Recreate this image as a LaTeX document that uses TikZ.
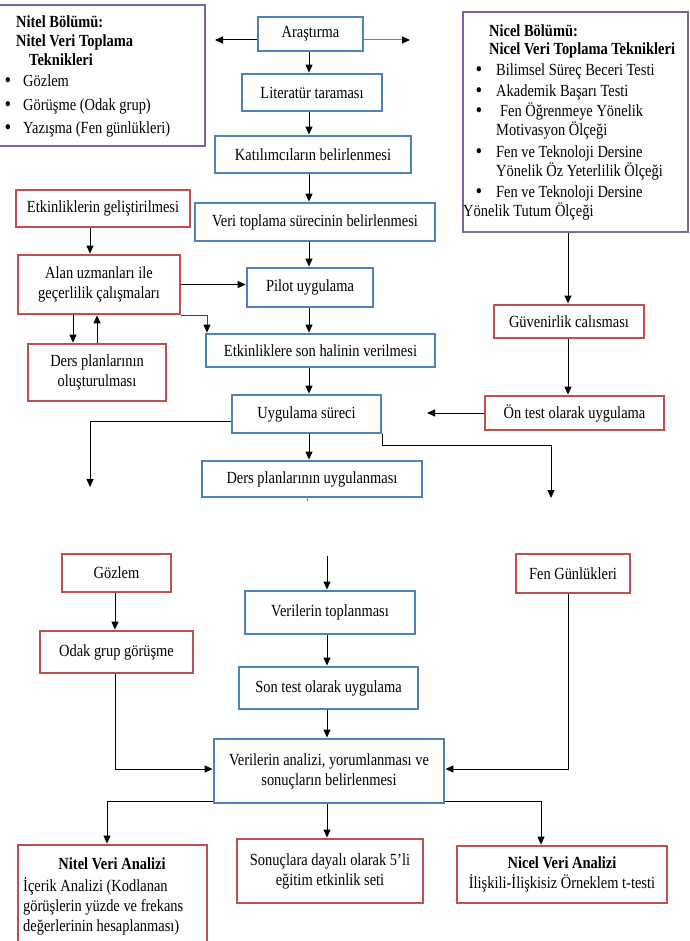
\documentclass[tikz,border=0pt]{standalone}
\usepackage{fontspec}
\setmainfont{Liberation Serif}[FakeStretch=0.85]
\usetikzlibrary{arrows.meta}
\definecolor{bblue}{HTML}{4F81BD}
\definecolor{rred}{HTML}{C0504D}
\definecolor{ppurple}{HTML}{8064A2}
\newcommand\mybox[7]{\node[#1,minimum width={#5-#3},minimum height={#6-#4}] (#2) at ({(#3+#5)/2},{(#4+#6)/2}) {#7};}
\begin{document}
\begin{tikzpicture}[x=1pt,y=-1pt,
 base/.style={draw, line width=2.8pt, fill=white, inner sep=0pt, outer sep=1.4pt, font=\fontsize{17}{20}\selectfont, align=center},
 bluebox/.style={base, draw=bblue},
 redbox/.style={base, draw=rred},
 purplebox/.style={base, draw=ppurple},
 arr/.style={-{Triangle[length=8pt,width=7pt,color=black]}, line width=1pt},
 lbl/.style={inner sep=0pt, anchor=west, font=\fontsize{17}{20}\selectfont, text height=11pt, text depth=3.5pt},
 lblb/.style={lbl, font=\bfseries\fontsize{17}{20}\selectfont},
 bul/.style={lbl, font=\bfseries\fontsize{19}{20}\selectfont}]
\fill[white] (0,0) rectangle (689,941);
\useasboundingbox (0,0) rectangle (689,941);

% side boxes
\mybox{purplebox}{nitelB}{-2}{5}{205}{146}{}
\mybox{purplebox}{nicelB}{463}{12}{688}{232}{}

\node[lblb] (nb1) at (16,24) {Nitel Bölümü:};
\node[lblb] (nb2) at (16,43) {Nitel Veri Toplama};
\node[lblb] (nb3) at (29,62) {Teknikleri};
\node[bul] (nbb1) at (5,83) {•};
\node[lbl] (nbi1) at (23,83) {Gözlem};
\node[bul] (nbb2) at (5,107) {•};
\node[lbl] (nbi2) at (23,107) {Görüşme (Odak grup)};
\node[bul] (nbb3) at (5,130) {•};
\node[lbl] (nbi3) at (23,130) {Yazışma (Fen günlükleri)};

\node[lblb] (cb1) at (489,33) {Nicel Bölümü:};
\node[lblb] (cb2) at (489,51) {Nicel Veri Toplama Teknikleri};
\node[bul] (cbb1) at (476,72) {•};
\node[lbl] (cbi1) at (496,72) {Bilimsel Süreç Beceri Testi};
\node[bul] (cbb2) at (476,93) {•};
\node[lbl] (cbi2) at (496,93) {Akademik Başarı Testi};
\node[bul] (cbb3) at (476,113) {•};
\node[lbl] (cbi3) at (500,113) {Fen Öğrenmeye Yönelik};
\node[lbl] (cbi3b) at (496,132) {Motivasyon Ölçeği};
\node[bul] (cbb4) at (476,154) {•};
\node[lbl] (cbi4) at (496,154) {Fen ve Teknoloji Dersine};
\node[lbl] (cbi4b) at (496,173) {Yönelik Öz Yeterlilik Ölçeği};
\node[bul] (cbb5) at (476,194) {•};
\node[lbl] (cbi5) at (496,194) {Fen ve Teknoloji Dersine};
\node[lbl] (cbi5b) at (463,213) {Yönelik Tutum Ölçeği};

% main column
\mybox{bluebox}{arastirma}{258}{17}{363}{51}{Araştırma}
\mybox{bluebox}{literatur}{242}{74}{382}{111}{Literatür taraması}
\mybox{bluebox}{katilim}{215}{136}{411}{173}{Katılımcıların belirlenmesi}
\mybox{bluebox}{veritop}{195}{203}{435}{241}{Veri toplama sürecinin belirlenmesi}
\mybox{bluebox}{pilot}{247}{268}{373}{307}{Pilot uygulama}
\mybox{bluebox}{etkson}{206}{334}{435}{367}{Etkinliklere son halinin verilmesi}
\mybox{bluebox}{uygsur}{232}{395}{381}{433}{Uygulama süreci}
\mybox{bluebox}{dersuyg}{202}{461}{422}{497}{Ders planlarının uygulanması}

\mybox{redbox}{etkgel}{16}{190}{190}{227}{Etkinliklerin geliştirilmesi}
\mybox{redbox}{alan}{18}{255}{180}{314}{Alan uzmanları ile\\geçerlilik çalışmaları}
\mybox{redbox}{dersolus}{28}{344}{166}{401}{Ders planlarının\\oluşturulması}
\mybox{redbox}{guven}{494}{305}{644}{338}{Güvenirlik calısması}
\mybox{redbox}{ontest}{485}{396}{664}{430}{Ön test olarak uygulama}

% lower part
\mybox{redbox}{gozlem}{62}{554}{171}{592}{Gözlem}
\mybox{redbox}{odak}{40}{631}{193}{673}{Odak grup görüşme}
\mybox{redbox}{fengun}{516}{554}{630}{593}{Fen Günlükleri}
\mybox{bluebox}{veritopl}{245}{591}{415}{634}{Verilerin toplanması}
\mybox{bluebox}{sontest}{239}{667}{418}{709}{Son test olarak uygulama}
\mybox{bluebox}{analiz}{214}{739}{444}{803}{Verilerin analizi, yorumlanması ve\\sonuçların belirlenmesi}
\mybox{redbox}{nitelA}{18}{845}{207}{962}{}
\mybox{redbox}{sonuclar}{237}{839}{423}{903}{Sonuçlara dayalı olarak 5’li\\eğitim etkinlik seti}
\mybox{redbox}{nicelA}{457}{846}{667}{903}{\textbf{Nicel Veri Analizi}\\İlişkili-İlişkisiz Örneklem t-testi}

\node[lblb, anchor=center] (na1) at (112,866) {Nitel Veri Analizi};
\node[lbl] (na2) at (23,888) {İçerik Analizi (Kodlanan};
\node[lbl] (na3) at (23,908) {görüşlerin yüzde ve frekans};
\node[lbl] (na4) at (23,928) {değerlerinin hesaplanması)};

% helper coordinates
\coordinate (mx) at (309,0);
\coordinate (al) at (215,40);
\coordinate (ar) at (410,40);
\coordinate (xa) at (90,0);
\coordinate (xb) at (73,0);
\coordinate (xc) at (97,0);
\coordinate (xs) at (207,0);
\coordinate (xr) at (568,0);
\coordinate (ot) at (427,0);
\coordinate (uy) at (0,421);
\coordinate (ul) at (90,487);
\coordinate (yy) at (0,445);
\coordinate (ur) at (551,498);
\coordinate (ds) at (307,501);
\coordinate (ct) at (327,556);
\coordinate (cx) at (327,0);
\coordinate (xg) at (115,0);
\coordinate (yv) at (0,769);
\coordinate (yb) at (0,801);
\coordinate (xn) at (107,0);
\coordinate (xq) at (541,0);

% connectors top
\draw[arr] (arastirma.west |- al) -- (al);
\draw[arr, draw=gray] (arastirma.east |- ar) -- (ar);
\draw[arr] (arastirma.south -| mx) -- (literatur.north -| mx);
\draw[arr] (literatur.south -| mx) -- (katilim.north -| mx);
\draw[arr] (katilim.south -| mx) -- (veritop.north -| mx);
\draw[arr] (veritop.south -| mx) -- (pilot.north -| mx);
\draw[arr] (pilot.south -| mx) -- (etkson.north -| mx);
\draw[arr] (etkson.south -| mx) -- (uygsur.north -| mx);
\draw[arr] (uygsur.south -| mx) -- (dersuyg.north -| mx);
\draw[line width=0.8pt, draw=gray] (dersuyg.south -| ds) -- (ds);

\draw[arr] (etkgel.south -| xa) -- (alan.north -| xa);
\draw[arr] (alan.south -| xb) -- (dersolus.north -| xb);
\draw[arr] (dersolus.north -| xc) -- (alan.south -| xc);
\draw[arr] (alan.east) -- (alan.east -| pilot.west);
\draw[arr, draw=black!75] (alan.south east) -| (etkson.north -| xs);

\draw[arr] (nicelB.south -| xr) -- (guven.north -| xr);
\draw[arr] (guven.south -| xr) -- (ontest.north -| xr);
\draw[arr] (ontest.west) -- (ontest.west -| ot);
\draw[arr] (uygsur.west |- uy) -| (ul);
\draw[arr] (uygsur.south east) -- (uygsur.south east |- yy) -| (ur);

% connectors bottom
\draw[arr] (ct) -- (veritopl.north -| ct);
\draw[arr] (veritopl.south -| cx) -- (sontest.north -| cx);
\draw[arr] (sontest.south -| cx) -- (analiz.north -| cx);
\draw[arr] (analiz.south -| cx) -- (sonuclar.north -| cx);
\draw[arr] (gozlem.south -| xg) -- (odak.north -| xg);
\draw[arr] (odak.south -| xg) |- (analiz.west |- yv);
\draw[arr] (fengun.south -| xr) |- (analiz.east |- yv);
\draw[arr] (analiz.west |- yb) -| (nitelA.north -| xn);
\draw[arr] (analiz.east |- yb) -| (nicelA.north -| xq);
\end{tikzpicture}
\end{document}
